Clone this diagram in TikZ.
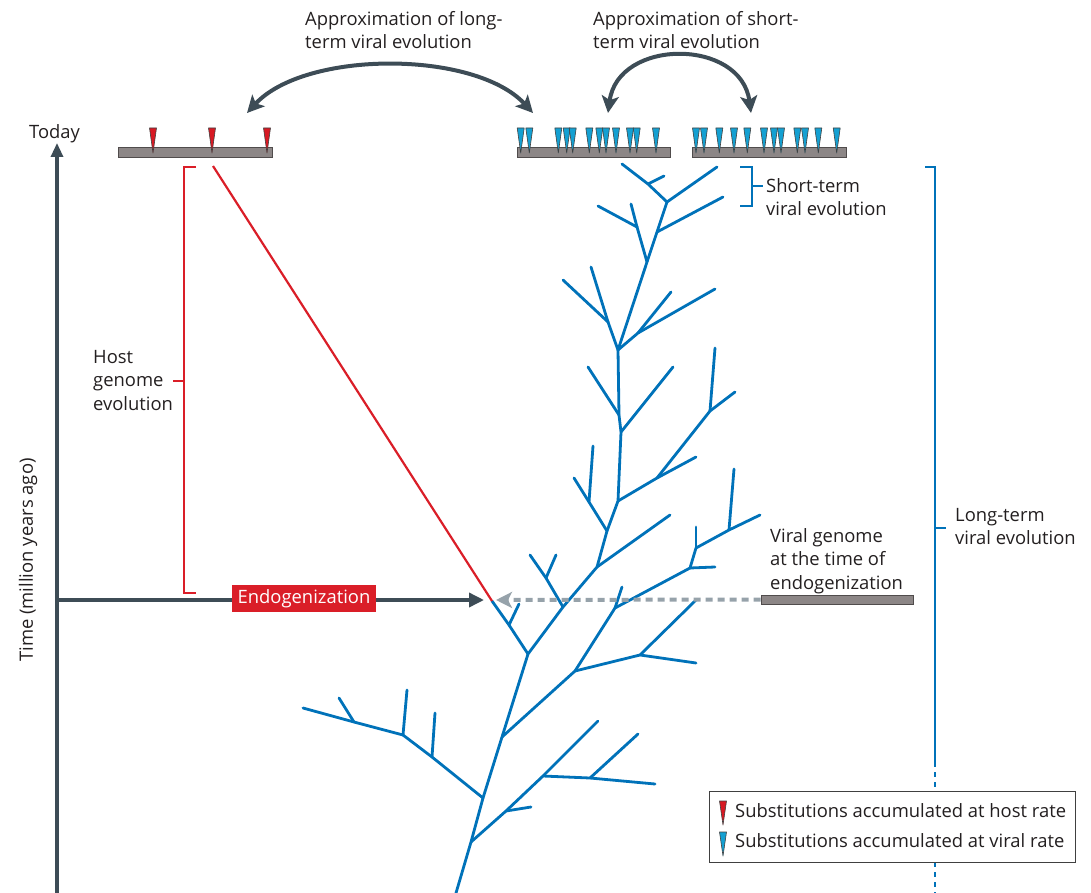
\documentclass[tikz,border=0pt]{standalone}
\usepackage{fontspec}
\setmainfont{Open Sans}
\usetikzlibrary{arrows.meta}
\definecolor{treeblue}{RGB}{0,114,185}
\definecolor{hostred}{RGB}{218,30,40}
\definecolor{slate}{RGB}{61,76,86}
\definecolor{arrgray}{RGB}{150,162,170}
\definecolor{barfill}{RGB}{140,134,134}
\definecolor{bardraw}{RGB}{80,76,76}
\definecolor{txt}{RGB}{35,31,32}
\definecolor{markblue}{RGB}{20,160,210}
\definecolor{markred}{RGB}{215,25,35}
\begin{document}
\begin{tikzpicture}[x=1pt,y=-1pt,
  tree/.style={treeblue,line width=2.8pt,line cap=round,line join=round},
  lbl/.style={text=txt,font=\fontsize{18.4}{23.5}\selectfont,align=left,inner sep=0pt,anchor=north west},
  genome/.style={draw=bardraw,fill=barfill,line width=1pt,minimum height=10pt,inner sep=0pt},
  subst/.style={draw=black!75,line width=0.6pt,line join=round},
  bracketblue/.style={treeblue,line width=1.2pt},
  bracketred/.style={hostred,line width=1.2pt},
  bigarrow/.style={slate,line width=4pt,{Stealth[length=17pt,width=17pt,inset=4pt]}-{Stealth[length=17pt,width=17pt,inset=4pt]}},
]
\useasboundingbox (0,0) rectangle (1091,893);

% ---------- texts at top ----------
\node[lbl] (longtxt) at (305,11) {Approximation of long-\\term viral evolution};
\node[lbl] (shorttxt) at (593,11) {Approximation of short-\\term viral evolution};
\node[lbl] (today) at (29,124) {Today};

% ---------- genome bars ----------
\node[genome,minimum width=154pt] (hostbar) at (195,153) {};
\node[genome,minimum width=153pt] (virbarA) at (593.5,153) {};
\node[genome,minimum width=154pt] (virbarB) at (769,153) {};
\node[genome,minimum width=152pt,minimum height=9pt] (endobar) at (837,599.5) {};

% ---------- markers ----------
\foreach \x in {153,212,267}
  \filldraw[subst,fill=markred] (\x-3.5,128) -- (\x+3.5,128) -- (\x,153) -- cycle;
\foreach \x in {520.7,529.3,558.3,566.7,572.7,589.3,599.3,606,616,630,636.7,656,
                696,704,719.3,734,747.3,764,774,781,797.3,805,818.3,836.7}
  \filldraw[subst,fill=markblue] (\x-3.5,128) -- (\x+3.5,128) -- (\x,153) -- cycle;

% ---------- curved arrows ----------
\coordinate (la) at (247,113);
\coordinate (lb) at (533,113);
\coordinate (ra) at (608,113);
\coordinate (rb) at (751,113);
\draw[bigarrow] (la) .. controls (305,50) and (475,50) .. (lb);
\draw[bigarrow] (ra) .. controls (618,38) and (741,38) .. (rb);

% ---------- time axis ----------
\coordinate (axbot) at (57,893);
\coordinate (axtop) at (57,143);
\draw[slate,line width=3.2pt,-{Triangle[length=14pt,width=12pt]}] (axbot) -- (axtop);
\node[lbl,anchor=center,rotate=90] (timelbl) at (28,560) {Time (million years ago)};

% ---------- tree ----------
\coordinate (r0) at (456,893);
\coordinate (A) at (471,842);
\coordinate (B) at (483,798);
\coordinate (C) at (502,737);
\coordinate (D) at (528,654);
\coordinate (E) at (563,607);
\coordinate (F) at (597,567);
\coordinate (G) at (607,531);
\coordinate (H) at (618,501);
\coordinate (I) at (621,432);
\coordinate (J) at (619,415);
\coordinate (K) at (618,350);
\coordinate (L) at (647,262);
\coordinate (M) at (657,232);
\coordinate (N) at (667,202);
\coordinate (d1) at (509,625);
\coordinate (endo) at (492,601);
\draw[tree] (r0) -- (A) -- (B) -- (C) -- (D) -- (E) -- (F) -- (G) -- (H) -- (I) -- (J) -- (K) -- (L) -- (M) -- (N);
% D
\draw[tree] (D) -- (d1) -- (endo);
\draw[tree] (d1) -- (519,604);
% A
\coordinate (a1) at (506,811);
\coordinate (a2) at (543,776);
\coordinate (a3) at (590,778);
\draw[tree] (A) -- (a1) -- (a2) -- (598,721);
\draw[tree] (a1) -- (531,807);
\draw[tree] (a2) -- (a3) -- (655,784);
\draw[tree] (a3) -- (638,734);
% B
\coordinate (b1) at (432,757);
\coordinate (b2) at (403,735);
\coordinate (b3) at (354,722);
\draw[tree] (B) -- (b1) -- (b2) -- (b3) -- (303,708);
\draw[tree] (b1) -- (435,713);
\draw[tree] (b2) -- (407,690);
\draw[tree] (b3) -- (339,698);
% C
\coordinate (c1) at (575,671);
\coordinate (c2) at (615,608);
\coordinate (c3) at (690,568);
\coordinate (c4) at (696,548);
\coordinate (c5) at (729,530);
\coordinate (c6) at (640,655);
\draw[tree] (C) -- (c1) -- (c2) -- (c3) -- (c4) -- (c5) -- (760,515);
\draw[tree] (c2) -- (622,587);
\draw[tree] (c3) -- (715,567);
\draw[tree] (c4) -- (696,527);
\draw[tree] (c5) -- (734,469);
\draw[tree] (c1) -- (c6) -- (696,663);
\draw[tree] (c6) -- (696,600);
% E
\coordinate (e1) at (546,578);
\draw[tree] (E) -- (e1) -- (530,555);
\draw[tree] (e1) -- (556,555);
% F
\draw[tree] (F) -- (670,515);
% G
\coordinate (g1) at (589,502);
\draw[tree] (G) -- (g1) -- (574,478);
\draw[tree] (g1) -- (593,446);
% H
\coordinate (h1) at (657,478);
\coordinate (h2) at (710,411);
\draw[tree] (H) -- (h1) -- (h2) -- (735,392);
\draw[tree] (h2) -- (715,348);
\draw[tree] (h1) -- (696,457);
% I, J
\draw[tree] (I) -- (673,367);
\draw[tree] (J) -- (588,367);
% K
\coordinate (k1) at (608,322);
\coordinate (k2) at (638,333);
\draw[tree] (K) -- (k1) -- (563,280);
\draw[tree] (k1) -- (591,267);
\draw[tree] (K) -- (k2) -- (715,289);
\draw[tree] (k2) -- (671,292);
% L, M, N
\coordinate (l1) at (637,227);
\draw[tree] (L) -- (l1) -- (598,206);
\draw[tree] (l1) -- (631,204);
\draw[tree] (M) -- (723,197);
\coordinate (n1) at (648,184);
\draw[tree] (N) -- (n1) -- (622,164);
\draw[tree] (n1) -- (664,176);
\draw[tree] (N) -- (717,167);

% ---------- host line ----------
\coordinate (hoststart) at (213,166);
\draw[hostred,line width=2.2pt] (hoststart) -- (endo);

% ---------- endogenization arrows ----------
\coordinate (endoaxis) at (57,600);
\coordinate (endotip) at (484,600);
\coordinate (graytip) at (496,600);
\draw[slate,line width=3.5pt,-{Triangle[length=15pt,width=14pt]}] (endoaxis) -- (endotip);
\draw[arrgray,line width=4pt,dash pattern=on 7pt off 5pt,-{Stealth[length=16pt,width=16pt,inset=4pt]}] (endobar.west) -- (graytip);
\node[fill=hostred,text=white,font=\fontsize{18.4}{20}\selectfont,minimum width=144pt,minimum height=27pt,inner sep=0pt] (endolbl) at (304,598.5) {Endogenization};

% ---------- brackets ----------
\draw[bracketred] (196,167) -- (184,167) -- (184,593) -- (196,593);
\draw[bracketred] (184,381) -- (173,381);
\node[lbl] (hosttxt) at (93,350) {Host\\genome\\evolution};

\draw[bracketblue] (740,167) -- (752,167) -- (752,206) -- (740,206);
\draw[bracketblue] (752,186) -- (763,186);
\node[lbl] (shortlbl) at (766,178) {Short-term\\viral evolution};

\draw[bracketblue] (925,167) -- (935,167) -- (935,762);
\draw[bracketblue,dash pattern=on 5pt off 5pt] (935,762) -- (935,893);
\draw[bracketblue] (935,528) -- (946,528);
\node[lbl] (longlbl) at (955,508) {Long-term\\viral evolution};

\node[lbl] (viraltxt) at (770,528) {Viral genome\\at the time of\\endogenization};

% ---------- legend ----------
\node[draw=black!75,fill=white,line width=0.8pt,minimum width=366pt,minimum height=71pt,inner sep=0pt] (legend) at (892,826.5) {};
\filldraw[subst,fill=markred] (719.5,801) -- (726.5,801) -- (723,825) -- cycle;
\filldraw[subst,fill=markblue] (719.5,832) -- (726.5,832) -- (723,856) -- cycle;
\node[lbl] (leghost) at (735,803) {Substitutions accumulated at host rate};
\node[lbl] (legvir) at (735,833) {Substitutions accumulated at viral rate};
\end{tikzpicture}
\end{document}
